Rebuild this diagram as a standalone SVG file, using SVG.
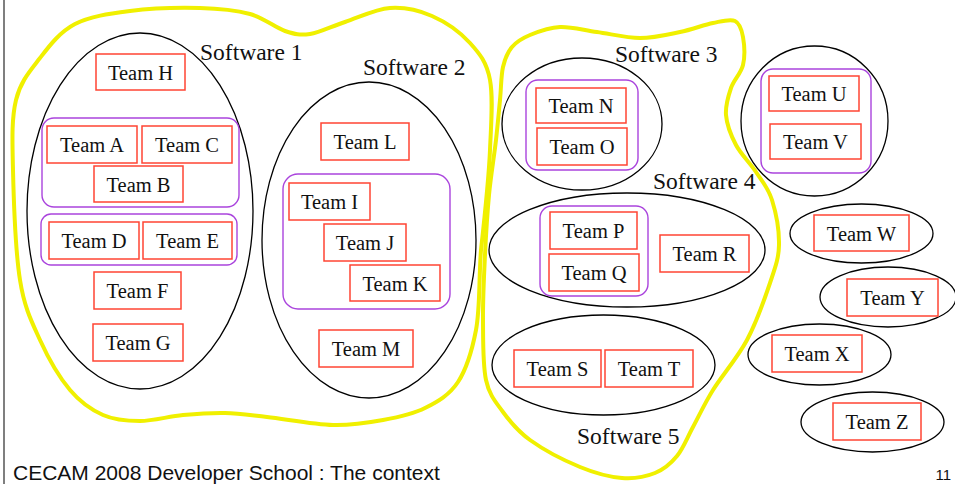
<svg xmlns="http://www.w3.org/2000/svg" width="955" height="484" viewBox="0 0 955 484">
  <style>
    .soft { fill: none; stroke: #000; stroke-width: 1.3; }
    .grp { fill: none; stroke: #aa44dd; stroke-width: 1.4; }
    .team { fill: #fff; stroke: #ff4433; stroke-width: 1.5; }
    .tt { font-family: "Liberation Serif", "Times New Roman", serif; font-size: 20.5px; fill: #111; text-anchor: middle; }
    .sw { font-family: "Liberation Serif", "Times New Roman", serif; font-size: 23.5px; fill: #111; }
    .hl { fill: none; stroke: #f0f000; stroke-width: 4; stroke-linejoin: round; }
    .foot { font-family: "Liberation Sans", Arial, sans-serif; fill: #111; }
  </style>
  <rect width="955" height="484" fill="#fff"/>
  <line x1="4" y1="0" x2="4" y2="484" stroke="#555" stroke-width="1.5"/>

  <!-- highlighted clusters -->
  <g id="connectors">
    <path class="hl" d="M 13,170 C 12.3,140 11.5,118.7 16,100 C 20.5,81.3 30.2,70.7 40,58 C 49.8,45.3 60,31.8 75,24 C 90,16.2 109.2,13.7 130,11 C 150.8,8.3 180,7.5 200,8 C 220,8.5 235.8,10.2 250,14 C 264.2,17.8 275,27.7 285,31 C 295,34.3 300,35.5 310,34 C 320,32.5 331.7,26.3 345,22 C 358.3,17.7 375.5,9 390,8 C 404.5,7 418.7,10.2 432,16 C 445.3,21.8 460.3,32.3 470,43 C 479.7,53.7 486.7,62.2 490,80 C 493.3,97.8 491.2,121.7 490,150 C 488.8,178.3 484.3,220 481,250 C 478.7,280 480.2,308 476,330 C 471.8,352 466.5,369 458,382 C 449.5,395 437.5,401.7 425,408 C 412.5,414.3 398.3,417.2 383,420 C 367.7,422.8 352.3,425.5 333,425 C 313.7,424.5 285,419 267,417 C 249,415 239,413.3 225,413 C 211,412.7 197.2,413.7 183,415 C 168.8,416.3 153.3,421 140,421 C 126.7,421 114.7,420.2 103,415 C 91.3,409.8 80.5,402.5 70,390 C 59.5,377.5 48.3,358.3 40,340 C 31.7,321.7 24.5,308.3 20,280 C 15.5,251.7 13.7,200 13,170 Z"/>
    <path class="hl" d="M 503,67 C 505,58.2 507.5,52.3 512,47 C 516.5,41.7 522,38.3 530,35 C 538,31.7 548.8,27.5 560,27 C 571.2,26.5 583.7,30.2 597,32 C 610.3,33.8 626.2,38 640,38 C 653.8,38 667.8,34.5 680,32 C 692.2,29.5 703.8,24.8 713,23 C 722.2,21.2 730,18.7 735,21 C 740,23.3 741.7,29.7 743,37 C 744.3,44.3 745,56.5 743,65 C 741,73.5 733.8,79.7 731,88 C 728.2,96.3 725.2,105.5 726,115 C 726.8,124.5 731,135.5 736,145 C 741,154.5 750,162.8 756,172 C 762,181.2 768.2,187.8 772,200 C 775.8,212.2 779.3,231.2 779,245 C 778.7,258.8 775.3,267.2 770,283 C 764.7,298.8 756.5,322.2 747,340 C 737.5,357.8 722,375.5 713,390 C 704,404.5 699,416 693,427 C 687,438 683.3,448.3 677,456 C 670.7,463.7 664.2,469.3 655,473 C 645.8,476.7 634.5,479 622,478 C 609.5,477 595.3,473.3 580,467 C 564.7,460.7 542.8,449.2 530,440 C 517.2,430.8 510.3,422 503,412 C 495.7,402 489.3,395.3 486,380 C 482.7,364.7 483.2,340.8 483,320 C 482.8,299.2 484,275.8 485,255 C 486,234.2 487.2,214.2 489,195 C 490.8,175.8 494.2,155.8 496,140 C 497.8,124.2 498.8,112.2 500,100 C 501.2,87.8 501,75.8 503,67 Z"/>
  </g>

  <!-- Software 1 -->
  <g id="software1">
    <ellipse class="soft" cx="140" cy="211" rx="113" ry="178"/>
    <text class="sw" x="200" y="60">Software 1</text>
    <rect class="grp" x="42" y="118" width="197" height="89" rx="12"/>
    <rect class="grp" x="41" y="214" width="196" height="51" rx="10"/>
  </g>
  <g id="teamH"><rect class="team" x="96" y="54" width="89" height="36"/><text class="tt" x="140.5" y="79.5">Team H</text></g>
  <g id="teamA"><rect class="team" x="47" y="126" width="90" height="37"/><text class="tt" x="92" y="152">Team A</text></g>
  <g id="teamC"><rect class="team" x="142" y="126" width="90" height="37"/><text class="tt" x="187" y="152">Team C</text></g>
  <g id="teamB"><rect class="team" x="94" y="166" width="89" height="36"/><text class="tt" x="138.5" y="191.5">Team B</text></g>
  <g id="teamD"><rect class="team" x="49" y="222" width="90" height="37"/><text class="tt" x="94" y="248">Team D</text></g>
  <g id="teamE"><rect class="team" x="143" y="222" width="89" height="37"/><text class="tt" x="187.5" y="248">Team E</text></g>
  <g id="teamF"><rect class="team" x="94" y="272" width="87" height="37"/><text class="tt" x="137.5" y="298">Team F</text></g>
  <g id="teamG"><rect class="team" x="93" y="324" width="90" height="37"/><text class="tt" x="138" y="350">Team G</text></g>

  <!-- Software 2 -->
  <g id="software2">
    <ellipse class="soft" cx="369" cy="240" rx="107" ry="158"/>
    <text class="sw" x="363" y="75">Software 2</text>
    <rect class="grp" x="283" y="174" width="167" height="135" rx="15"/>
  </g>
  <g id="teamL"><rect class="team" x="321" y="123" width="88" height="37"/><text class="tt" x="365" y="149">Team L</text></g>
  <g id="teamI"><rect class="team" x="289" y="183" width="81" height="37"/><text class="tt" x="329.5" y="209">Team I</text></g>
  <g id="teamJ"><rect class="team" x="324" y="224" width="82" height="37"/><text class="tt" x="365" y="250">Team J</text></g>
  <g id="teamK"><rect class="team" x="350" y="265" width="90" height="36"/><text class="tt" x="395" y="290.5">Team K</text></g>
  <g id="teamM"><rect class="team" x="319" y="330" width="94" height="37"/><text class="tt" x="366" y="356">Team M</text></g>

  <!-- Software 3 -->
  <g id="software3">
    <ellipse class="soft" cx="582" cy="124" rx="80" ry="66"/>
    <text class="sw" x="615" y="62">Software 3</text>
    <rect class="grp" x="526" y="80" width="112" height="90" rx="12"/>
  </g>
  <g id="teamN"><rect class="team" x="536" y="88" width="90" height="35"/><text class="tt" x="581" y="113">Team N</text></g>
  <g id="teamO"><rect class="team" x="537" y="128" width="90" height="37"/><text class="tt" x="582" y="154">Team O</text></g>

  <!-- Software 4 -->
  <g id="software4">
    <ellipse class="soft" cx="627" cy="250" rx="138" ry="57"/>
    <text class="sw" x="653" y="189">Software 4</text>
    <rect class="grp" x="540" y="206" width="108" height="90" rx="12"/>
  </g>
  <g id="teamP"><rect class="team" x="550" y="212" width="87" height="37"/><text class="tt" x="593.5" y="238">Team P</text></g>
  <g id="teamQ"><rect class="team" x="549" y="254" width="90" height="37"/><text class="tt" x="594" y="280">Team Q</text></g>
  <g id="teamR"><rect class="team" x="660" y="235" width="89" height="37"/><text class="tt" x="704.5" y="261">Team R</text></g>

  <!-- Software 5 -->
  <g id="software5">
    <ellipse class="soft" cx="603.5" cy="365" rx="111.5" ry="50"/>
    <text class="sw" x="577" y="444">Software 5</text>
  </g>
  <g id="teamS"><rect class="team" x="514" y="350" width="87" height="37"/><text class="tt" x="557.5" y="376">Team S</text></g>
  <g id="teamT"><rect class="team" x="605" y="350" width="88" height="37"/><text class="tt" x="649" y="376">Team T</text></g>

  <!-- Teams U and V -->
  <g id="groupUV">
    <ellipse class="soft" cx="814.5" cy="121" rx="73.5" ry="75"/>
    <rect class="grp" x="761" y="69" width="110" height="104" rx="12"/>
  </g>
  <g id="teamU"><rect class="team" x="769" y="76" width="90" height="35"/><text class="tt" x="814" y="101">Team U</text></g>
  <g id="teamV"><rect class="team" x="770" y="124" width="91" height="35"/><text class="tt" x="815.5" y="149">Team V</text></g>

  <!-- single-team products -->
  <g id="teamW"><ellipse class="soft" cx="861.5" cy="233.5" rx="71.5" ry="29.5"/><rect class="team" x="814" y="215" width="95" height="36"/><text class="tt" x="861.5" y="240.5">Team W</text></g>
  <g id="teamY"><ellipse class="soft" cx="888" cy="297" rx="68" ry="30"/><rect class="team" x="847" y="279" width="91" height="37"/><text class="tt" x="892.5" y="305">Team Y</text></g>
  <g id="teamX"><ellipse class="soft" cx="819.5" cy="354.5" rx="71.5" ry="30.5"/><rect class="team" x="772" y="335" width="90" height="37"/><text class="tt" x="817" y="361">Team X</text></g>
  <g id="teamZ"><ellipse class="soft" cx="872.5" cy="422" rx="71.5" ry="30"/><rect class="team" x="833" y="403" width="88" height="37"/><text class="tt" x="877" y="429">Team Z</text></g>

  <!-- footer -->
  <text class="foot" x="13" y="480" font-size="21">CECAM 2008 Developer School : The context</text>
  <text class="foot" x="951" y="480" font-size="15" text-anchor="end">11</text>
</svg>
